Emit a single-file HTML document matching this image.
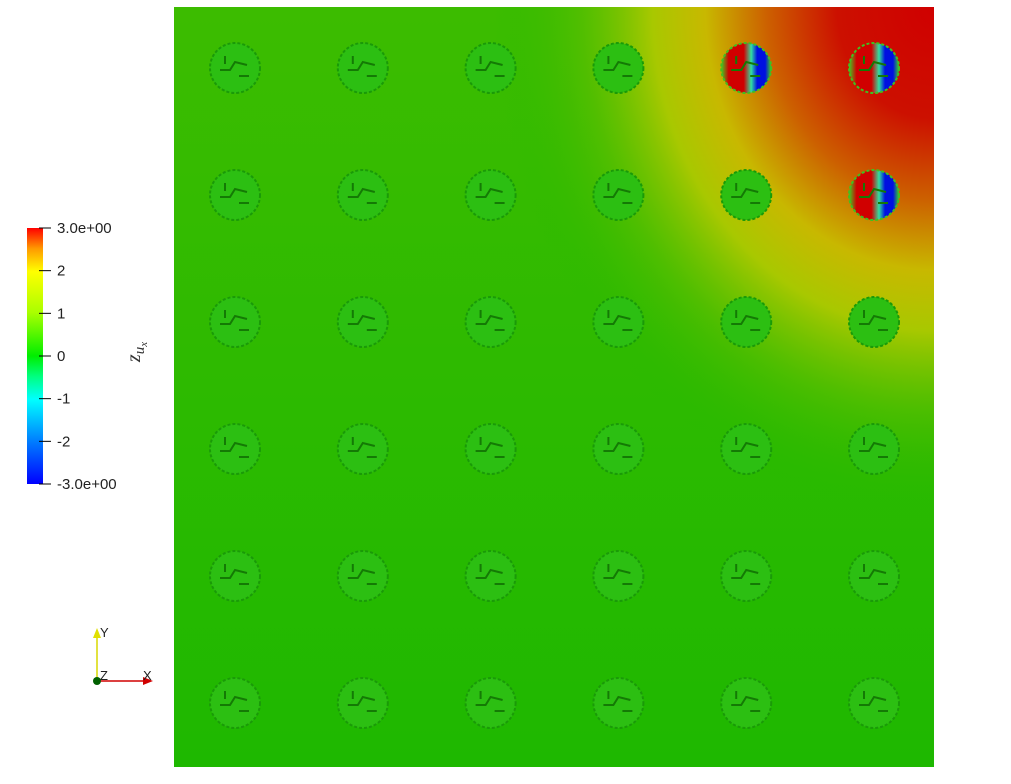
<!DOCTYPE html>
<html><head><meta charset="utf-8"><style>
body{margin:0;background:#fff;width:1011px;height:779px;overflow:hidden;font-family:"Liberation Sans",sans-serif}
</style></head><body>
<svg id="s" width="1011" height="779" xmlns="http://www.w3.org/2000/svg">
<defs>
<linearGradient id="cb" x1="0" y1="1" x2="0" y2="0">
<stop offset="0" stop-color="#0000ff"/><stop offset="0.17" stop-color="#0080ff"/><stop offset="0.33" stop-color="#00ffff"/><stop offset="0.42" stop-color="#00ff80"/><stop offset="0.5" stop-color="#00ee00"/><stop offset="0.67" stop-color="#aaff00"/><stop offset="0.83" stop-color="#ffff00"/><stop offset="0.92" stop-color="#ff9900"/><stop offset="1" stop-color="#ff0000"/>
</linearGradient>
<radialGradient id="hot" gradientUnits="userSpaceOnUse" cx="934" cy="7" r="440" gradientTransform="translate(934 7) scale(1 1.15) translate(-934 -7)">
<stop offset="0" stop-color="#d00000"/><stop offset="0.22" stop-color="#cc1000"/><stop offset="0.38" stop-color="#cc6000"/><stop offset="0.52" stop-color="#c8b800"/><stop offset="0.64" stop-color="#a8c800"/><stop offset="0.8" stop-color="#60c000" stop-opacity="0.6"/><stop offset="1" stop-color="#22b800" stop-opacity="0"/>
</radialGradient>
<linearGradient id="bg" x1="0" y1="0" x2="0" y2="1"><stop offset="0" stop-color="#3cbc00"/><stop offset="1" stop-color="#1eb800"/></linearGradient>
<linearGradient id="hc" x1="0" x2="1"><stop offset="0" stop-color="#40d020"/><stop offset="0.15" stop-color="#d00000"/><stop offset="0.45" stop-color="#d00000"/><stop offset="0.6" stop-color="#30e0a0"/><stop offset="0.72" stop-color="#0010e0"/><stop offset="0.88" stop-color="#0010e0"/><stop offset="1" stop-color="#40d020"/></linearGradient>
</defs>
<rect x="174" y="7" width="760" height="760" fill="url(#bg)"/>
<rect x="174" y="7" width="760" height="760" fill="url(#hot)"/>
<g id="circles"></g>
<g>
<rect x="27" y="228" width="16" height="256" fill="url(#cb)"/>
<g id="cbt" font-size="15" fill="#222"></g>
<text transform="translate(140,352) rotate(-90)" text-anchor="middle" font-family="Liberation Serif" font-style="italic" font-size="20" fill="#333">z<tspan font-size="15" dy="4">u</tspan><tspan font-size="11" dy="3">x</tspan></text>
</g>
<g>
<line x1="97" y1="681" x2="97" y2="636" stroke="#d8d800" stroke-width="1.5"/>
<polygon points="93,638 101,638 97,628" fill="#e0e000"/>
<line x1="97" y1="681" x2="145" y2="681" stroke="#d00000" stroke-width="1.5"/>
<polygon points="143,677 143,685 153,681" fill="#d00000"/>
<circle cx="97" cy="681" r="4" fill="#006000"/>
<text x="100" y="637" font-size="13" fill="#222">Y</text>
<text x="100" y="680" font-size="13" fill="#222">Z</text>
<text x="143" y="680" font-size="13" fill="#222">X</text>
</g>
</svg>
<script>
const cols=[0,1,2,3,4,5];
const rows=[0,1,2,3,4,5];
// peak |z| inside each inclusion, row-major (top row first)
const peaks=[0,0,0,0,3,3, 0,0,0,0,0,3, 0,0,0,0,0,0, 0,0,0,0,0,0, 0,0,0,0,0,0, 0,0,0,0,0,0];
const ticks=[3,2,1,0,-1,-2,-3];
const tickLabels=["3.0e+00","2","1","0","-1","-2","-3.0e+00"];
const NS="http://www.w3.org/2000/svg";
const X=c=>235+c*127.8, Y=r=>68+r*127;
const V=v=>356-v*(256/6);
const g=document.getElementById('circles');
rows.forEach(r=>cols.forEach(c=>{
 const p=peaks[r*6+c];
 const e=document.createElementNS(NS,'circle');
 e.setAttribute('cx',X(c));e.setAttribute('cy',Y(r));e.setAttribute('r',25);
 e.setAttribute('fill',p>1?'url(#hc)':'#2cbf12');
 e.setAttribute('stroke',p>1?'#40c020':'#1a9a08');e.setAttribute('stroke-width','2');e.setAttribute('stroke-dasharray','3 2');
 
 
 g.appendChild(e);
 const l=document.createElementNS(NS,'path');
 const x=X(c),y=Y(r);
 l.setAttribute('d',`M${x-15} ${y+2} L${x-5} ${y+2} L${x} ${y-6} L${x+12} ${y-3} M${x-10} ${y-12} L${x-10} ${y-4} M${x+4} ${y+8} L${x+14} ${y+8}`);
 l.setAttribute('stroke','#147a05');l.setAttribute('fill','none');l.setAttribute('stroke-width','2');
 
 
 g.appendChild(l);
}));
const t=document.getElementById('cbt');
ticks.forEach((v,i)=>{
 const ln=document.createElementNS(NS,'line');
 ln.setAttribute('x1',39);ln.setAttribute('x2',51);ln.setAttribute('y1',V(v));ln.setAttribute('y2',V(v));ln.setAttribute('stroke','#000');
 
 
 t.appendChild(ln);
 const tx=document.createElementNS(NS,'text');
 tx.setAttribute('x',57);tx.setAttribute('y',V(v)+5);tx.textContent=tickLabels[i];
 
 
 t.appendChild(tx);
});
</script>
</body></html>
